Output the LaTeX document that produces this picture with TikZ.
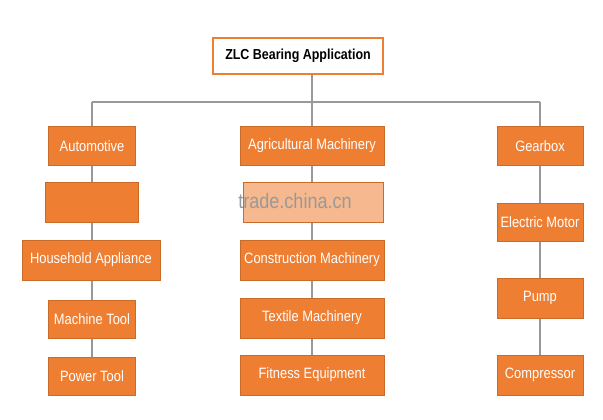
\documentclass[tikz,border=0pt]{standalone}
\usepackage{fontspec}
\setmainfont[FakeStretch=0.86]{Liberation Sans}
\definecolor{org}{HTML}{EE7E32}
\begin{document}
\begin{tikzpicture}[x=1pt,y=-1pt,
  ob/.style={fill=org,draw=org!85!black,line width=0.4pt,text=white,font=\fontsize{15}{17}\selectfont,inner sep=0pt},
  ln/.style={draw=gray!80,line width=1.2pt}]
\useasboundingbox (0,0) rectangle (603,420);
\node[draw=org,line width=1.5pt,fill=white,minimum width=170,minimum height=36,font=\bfseries\fontsize{14.5}{16}\selectfont] (t) at (298,56) {ZLC Bearing Application};
\coordinate (hL) at (92,102); \coordinate (hR) at (540,102); \coordinate (hM) at (312,102);
\draw[ln] (t.south -| hM) -- (hM);
\draw[ln] (hL) -- (hR);
\draw[ln] (hL) -- (92,380);
\draw[ln] (hM) -- (312,380);
\draw[ln] (hR) -- (540,380);
% left
\node[ob,minimum width=87,minimum height=39] (a1) at (92,146) {Automotive};
\node[ob,minimum width=93,minimum height=40] (a2) at (92,202) {};
\node[ob,minimum width=138,minimum height=40] (a3) at (91,260) {Household Appliance};
\node[ob,minimum width=87,minimum height=38] (a4) at (92,319) {Machine Tool};
\node[ob,minimum width=87,minimum height=38] (a5) at (92,376) {Power Tool};
% middle
\node[ob,minimum width=144,minimum height=39] (b1) at (312,146) {Agricultural Machinery};
\node[ob,minimum width=140,minimum height=40,fill=org!55] (b2) at (313,202) {};
\node[ob,minimum width=144,minimum height=40] (b3) at (312,260) {Construction Machinery};
\node[ob,minimum width=144,minimum height=40] (b4) at (312,318) {Textile Machinery};
\node[ob,minimum width=144,minimum height=40] (b5) at (312,375) {Fitness Equipment};
% right
\node[ob,minimum width=86,minimum height=39] (c1) at (540,146) {Gearbox};
\node[ob,minimum width=86,minimum height=38] (c2) at (540,222) {Electric Motor};
\node[ob,minimum width=86,minimum height=40] (c3) at (540,298) {Pump};
\node[ob,minimum width=86,minimum height=40] (c4) at (540,375) {Compressor};
\node[text=gray!80,font=\fontsize{21}{23}\selectfont] (w) at (295,201) {trade.china.cn};
\end{tikzpicture}
\end{document}
